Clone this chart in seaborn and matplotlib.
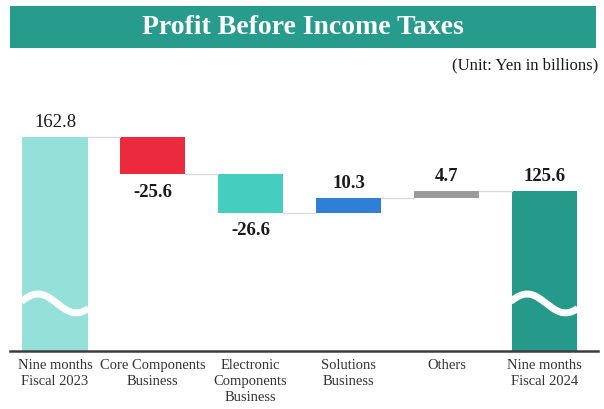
import numpy as np
import matplotlib
matplotlib.use("Agg")
import matplotlib.pyplot as plt
from matplotlib.patches import Rectangle
import seaborn as sns

categories = ["Nine months\nFiscal 2023", "Core Components\nBusiness",
              "Electronic\nComponents\nBusiness", "Solutions\nBusiness",
              "Others", "Nine months\nFiscal 2024"]
values = [162.8, -25.6, -26.6, 10.3, 4.7, 125.6]
is_total = [True, False, False, False, False, True]
labels = ["162.8", "-25.6", "-26.6", "10.3", "4.7", "125.6"]
colors = ["#95e1d9", "#ec2a3e", "#45cdbf", "#2f7fd6", "#9b9b9b", "#25998a"]

sns.set_theme(style="white")
plt.rcParams["font.family"] = ["Liberation Serif", "DejaVu Serif"]

fig = plt.figure(figsize=(6.04, 4.09), dpi=100)
ax = fig.add_axes([10/604, 1-351/409, 588/604, (351-80)/409])

# waterfall geometry from values
bottoms, heights, levels = [], [], []
run = 0.0
for v, tot in zip(values, is_total):
    if tot:
        bottoms.append(0.0); heights.append(v); run = v
    else:
        bottoms.append(min(run, run + v)); heights.append(abs(v)); run = run + v
    levels.append(run)

W = 0.665
sns.barplot(x=categories, y=heights, hue=categories, palette=colors, legend=False,
            width=W, saturation=1, ax=ax, edgecolor="none", linewidth=0)
for p, b in zip(ax.patches, bottoms):
    p.set_y(b)

ax.set_xlim(-0.46, 5.55)
ax.set_ylim(15.2, 202.1)

# connectors
for i in range(len(values) - 1):
    ax.plot([i + W/2, i + 1 - W/2], [levels[i], levels[i]], color="#dadada", lw=1.0, zorder=1)

# value labels
for i, (v, tot, lab) in enumerate(zip(values, is_total, labels)):
    top = bottoms[i] + heights[i]
    weight = "normal" if i == 0 else "bold"
    if tot or v > 0:
        ax.annotate(lab, (i, top), xytext=(0, 7), textcoords="offset points",
                    ha="center", va="baseline", fontsize=13.5, fontweight=weight, color="#1a1a1a")
    else:
        ax.annotate(lab, (i, bottoms[i]), xytext=(0, -7), textcoords="offset points",
                    ha="center", va="top", fontsize=13.5, fontweight=weight, color="#1a1a1a")

# axis break waves on total bars
for i, tot in enumerate(is_total):
    if tot:
        xs = np.linspace(i - W/2 - 0.01, i + W/2 + 0.01, 200)
        t = (xs - (i - W/2)) / W
        ys = 48 + 6.5 * np.sin(2 * np.pi * 0.85 * t + 0.3)
        ax.plot(xs, ys, color="white", lw=5, solid_capstyle="butt", zorder=3)

for s in ["top", "left", "right"]:
    ax.spines[s].set_visible(False)
ax.spines["bottom"].set_color("#3c3c3c")
ax.spines["bottom"].set_linewidth(1.8)
ax.set_yticks([])
ax.set_xlabel("")
ax.set_ylabel("")
ax.tick_params(axis="x", length=0, pad=6, labelsize=10.5, labelcolor="#333333")
for tl in ax.get_xticklabels():
    tl.set_linespacing(1.3)

# banner
fig.patches.append(Rectangle((10/604, 1-48/409), 586/604, 42/409, transform=fig.transFigure,
                             facecolor="#279b8c", edgecolor="none", zorder=0))
fig.text(303/604, 1-27/409, "Profit Before Income Taxes", ha="center", va="center",
         color="white", fontsize=20, fontweight="bold")
fig.text(598/604, 1-65/409, "(Unit: Yen in billions)", ha="right", va="center",
         color="#1a1a1a", fontsize=12)

fig.savefig("out.png", dpi=100)
